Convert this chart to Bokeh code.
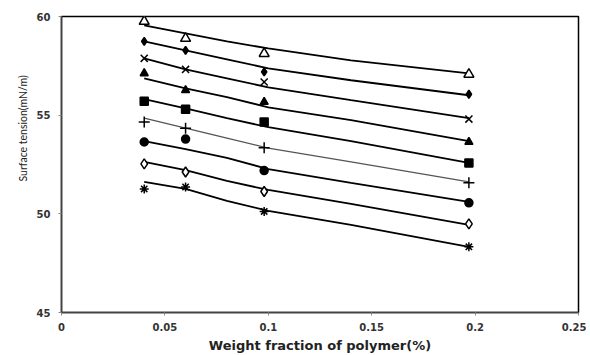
from bokeh.plotting import figure
from bokeh.models import Range1d, FixedTicker, Title
from bokeh.embed import file_html
from bokeh.resources import INLINE

# measured points
x_pts = [0.04, 0.06, 0.098, 0.197]
s1 = [59.75, 58.89, 58.12, 57.07]   # open triangle
s2 = [58.74, 58.28, 57.19, 56.06]   # filled diamond
s3 = [57.88, 57.32, 56.68, 54.80]   # x
s4 = [57.12, 56.26, 55.67, 53.64]   # filled triangle
s5 = [55.71, 55.30, 54.66, 52.58]   # filled square
s6 = [54.65, 54.34, 53.35, 51.57]   # plus
s7 = [53.64, 53.79, 52.19, 50.56]   # filled circle
s8 = [52.53, 52.12, 51.13, 49.49]   # open diamond
s9 = [51.26, 51.36, 50.12, 48.33]   # asterisk

# trend curves
x_fit = [0.04, 0.06, 0.08, 0.10, 0.14, 0.197]
f1 = [59.55, 59.14, 58.74, 58.38, 57.78, 57.12]
f2 = [58.74, 58.28, 57.83, 57.37, 56.77, 56.01]
f3 = [57.88, 57.32, 56.87, 56.41, 55.76, 54.85]
f4 = [56.87, 56.36, 55.91, 55.40, 54.75, 53.69]
f5 = [55.81, 55.35, 54.85, 54.39, 53.69, 52.58]
f6 = [54.85, 54.34, 53.84, 53.33, 52.63, 51.62]
f7 = [53.69, 53.28, 52.83, 52.27, 51.57, 50.61]
f8 = [52.63, 52.22, 51.67, 51.21, 50.51, 49.44]
f9 = [51.62, 51.26, 50.66, 50.15, 49.44, 48.33]

x_ticks = [0, 0.05, 0.1, 0.15, 0.2, 0.25]
x_tick_labels = ["0", "0.05", "0.1", "0.15", "0.2", "0.25"]
y_ticks = [45, 50, 55, 60]

series = [
    (s1, f1, "triangle", 10, "white", "black"),
    (s2, f2, "diamond", 8, "black", "black"),
    (s3, f3, "x", 10, None, "black"),
    (s4, f4, "triangle", 8, "black", "black"),
    (s5, f5, "square", 8, "black", "black"),
    (s6, f6, "cross", 11, None, "#666666"),
    (s7, f7, "circle", 8, "black", "black"),
    (s8, f8, "diamond", 10, "white", "black"),
    (s9, f9, "asterisk", 9, None, "black"),
]

p = figure(width=586, height=355, output_backend="svg", toolbar_location=None,
           x_range=Range1d(0, 0.25), y_range=Range1d(45, 60),
           min_border_left=61, min_border_right=8, min_border_top=16, min_border_bottom=42)
p.background_fill_color = "white"
p.border_fill_color = "white"
p.outline_line_color = "black"
p.outline_line_width = 1.5
p.xgrid.visible = False
p.ygrid.visible = False

for s, f, mk, sz, fill, lc in series:
    line_col = "#555555" if mk == "cross" else "black"
    lw = 1.3 if mk == "cross" else 1.8
    p.line(x_fit, f, line_color=line_col, line_width=lw)
    p.scatter(x_pts, s, marker=mk, size=sz, fill_color=fill, line_color="black",
              line_width=1.5)

p.xaxis.ticker = FixedTicker(ticks=x_ticks)
p.xaxis.major_label_overrides = {t: l for t, l in zip(x_ticks, x_tick_labels)}
p.yaxis.ticker = FixedTicker(ticks=y_ticks)

for ax in (p.xaxis[0], p.yaxis[0]):
    ax.axis_line_color = "#444444"
    ax.axis_line_width = 1.5
    ax.major_tick_line_color = "#888888"
    ax.major_tick_out = 3
    ax.major_tick_in = 0
    ax.minor_tick_out = 0
    ax.minor_tick_in = 0
    ax.major_label_text_font = "DejaVu Sans"
    ax.major_label_text_font_style = "bold"
    ax.major_label_text_font_size = "10px"
    ax.major_label_text_color = "#333333"

p.xaxis.major_label_standoff = 7
p.yaxis.major_label_standoff = 8
p.xaxis.axis_label = "Weight fraction of polymer(%)"
p.xaxis.axis_label_text_font = "DejaVu Sans"
p.xaxis.axis_label_text_font_style = "bold"
p.xaxis.axis_label_text_font_size = "13px"
p.xaxis.axis_label_text_color = "#222222"
p.xaxis.axis_label_standoff = 4

ytitle = Title(text="Surface tension(mN/m)", align="left", offset=131,
               text_font="Lato", text_font_size="10.5px", text_font_style="normal",
               text_color="#222222")
p.add_layout(ytitle, "left")

open("out.html", "w").write(file_html(p, INLINE))
